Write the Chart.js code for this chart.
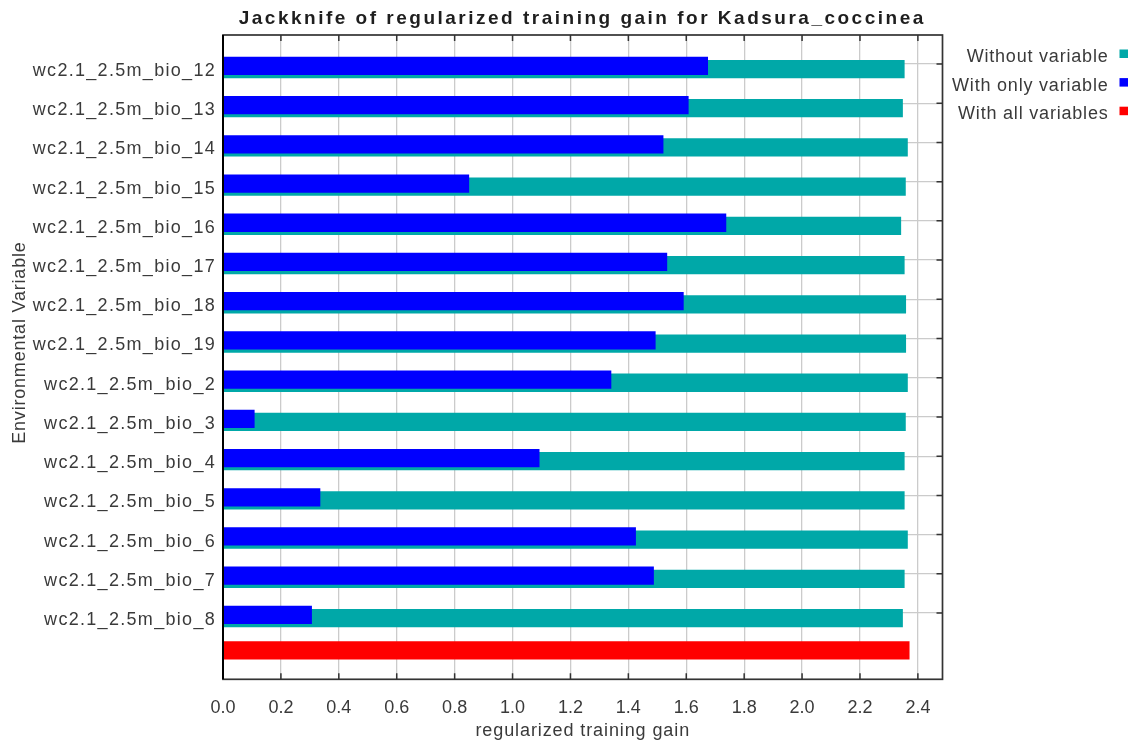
<!DOCTYPE html>
<html>
<head>
<meta charset="utf-8">
<title>Jackknife of regularized training gain for Kadsura_coccinea</title>
<script src="https://cdn.jsdelivr.net/npm/chart.js@4/dist/chart.umd.min.js"></script>
<style>
  html, body { margin: 0; padding: 0; background: #ffffff; }
  canvas { display: block; }
</style>
</head>
<body>
<canvas id="jackknife" width="1135" height="747"></canvas>
<script>
// Environmental variables, top to bottom
const variables = [
  'wc2.1_2.5m_bio_12', 'wc2.1_2.5m_bio_13', 'wc2.1_2.5m_bio_14', 'wc2.1_2.5m_bio_15',
  'wc2.1_2.5m_bio_16', 'wc2.1_2.5m_bio_17', 'wc2.1_2.5m_bio_18', 'wc2.1_2.5m_bio_19',
  'wc2.1_2.5m_bio_2', 'wc2.1_2.5m_bio_3', 'wc2.1_2.5m_bio_4', 'wc2.1_2.5m_bio_5',
  'wc2.1_2.5m_bio_6', 'wc2.1_2.5m_bio_7', 'wc2.1_2.5m_bio_8'
];
// Regularized training gain of a model built without each variable
const withoutVariable = [
  2.353, 2.347, 2.364, 2.357, 2.341, 2.353, 2.358, 2.358,
  2.364, 2.357, 2.353, 2.353, 2.364, 2.353, 2.347
];
// Gain of a model built with each variable alone
const withOnlyVariable = [
  1.674, 1.607, 1.520, 0.849, 1.737, 1.533, 1.590, 1.493,
  1.340, 0.108, 1.092, 0.335, 1.425, 1.487, 0.306
];
// Gain of the full model
const withAllVariables = 2.370;
// Gain axis tick values
const gainTicks = [0.0, 0.2, 0.4, 0.6, 0.8, 1.0, 1.2, 1.4, 1.6, 1.8, 2.0, 2.2, 2.4];
const seriesLabels = ['Without variable', 'With only variable', 'With all variables'];

const COLORS = { without: '#00a8a8', only: '#0000ff', all: '#ff0000' };
const TEXT = '#3a3a3a';
const GRID = '#cbcbcb';
const FRAME = '#333333';
const FONT = "'Liberation Sans', Arial, sans-serif";

// Row band geometry on the variable axis (in row units)
const ROW_MIN = -0.7395;
const ROW_MAX = 15.69;
const GAIN_MAX = 2.485;

// hidden row axes shift each series a little inside its band
function rowAxis(shift) {
  return {
    type: 'linear', axis: 'y', display: false, reverse: true, offset: false,
    grid: { offset: false },
    min: ROW_MIN - shift, max: ROW_MAX - shift
  };
}

const rowIdx = variables.map((_, i) => i);

const data = {
  datasets: [
    {
      label: seriesLabels[1],
      data: rowIdx.map(i => ({ x: withOnlyVariable[i], y: i })),
      backgroundColor: COLORS.only,
      yAxisID: 'yOnly', order: 1
    },
    {
      label: seriesLabels[0],
      data: rowIdx.map(i => ({ x: withoutVariable[i], y: i })),
      backgroundColor: COLORS.without,
      yAxisID: 'yWithout', order: 2
    },
    {
      label: seriesLabels[2],
      data: [{ x: withAllVariables, y: variables.length }],
      backgroundColor: COLORS.all,
      yAxisID: 'yAll', order: 0
    }
  ]
};

function spaced(ctx, spacing, fn) {
  ctx.save();
  ctx.letterSpacing = spacing + 'px';
  fn();
  ctx.restore();
}

// Letter spacing for the axis texts drawn by the scales
const axisTextSpacing = {
  id: 'axisTextSpacing',
  beforeDraw(chart) {
    const y = chart.scales.y, x = chart.scales.x;
    if (!y.__spaced) {
      const drawY = y.drawLabels;
      y.drawLabels = function (area) { spaced(this.ctx, 1.3, () => drawY.call(this, area)); };
      y.__spaced = true;
    }
    if (!x.__spaced) {
      const drawT = x.drawTitle;
      x.drawTitle = function (area) { spaced(this.ctx, 0.9, () => drawT.call(this, area)); };
      x.__spaced = true;
    }
  }
};

// Plot frame with inward tick marks
const plotFrame = {
  id: 'plotFrame',
  afterDatasetsDraw(chart) {
    const { ctx, chartArea: a, scales } = chart;
    ctx.save();
    ctx.strokeStyle = FRAME;
    ctx.lineWidth = 1.5;
    ctx.beginPath();
    gainTicks.forEach(v => {
      const px = scales.x.getPixelForValue(v);
      ctx.moveTo(px, a.top); ctx.lineTo(px, a.top + 6);
      ctx.moveTo(px, a.bottom); ctx.lineTo(px, a.bottom - 6);
    });
    rowIdx.forEach(i => {
      const py = scales.y.getPixelForValue(i);
      ctx.moveTo(a.right, py); ctx.lineTo(a.right - 6, py);
    });
    ctx.stroke();
    ctx.lineWidth = 1.7;
    ctx.strokeRect(a.left, a.top, a.right - a.left, a.bottom - a.top);
    ctx.strokeStyle = '#000000';
    ctx.lineWidth = 2;
    ctx.beginPath();
    ctx.moveTo(a.left, a.top); ctx.lineTo(a.left, a.bottom);
    ctx.stroke();
    ctx.restore();
  }
};

// Title, variable-axis title and legend
const annotations = {
  id: 'annotations',
  afterDraw(chart) {
    const { ctx, chartArea: a } = chart;
    ctx.save();
    ctx.textBaseline = 'middle';

    // chart title
    ctx.fillStyle = '#1e1e1e';
    ctx.font = 'bold 19px ' + FONT;
    ctx.textAlign = 'center';
    spaced(ctx, 2.5, () => ctx.fillText('Jackknife of regularized training gain for Kadsura_coccinea',
      (a.left + a.right) / 2 - 0.5, 18.5));

    // variable axis title
    ctx.fillStyle = TEXT;
    ctx.font = '18px ' + FONT;
    ctx.save();
    ctx.translate(20, 343);
    ctx.rotate(-Math.PI / 2);
    ctx.textAlign = 'center';
    spaced(ctx, 0.8, () => ctx.fillText('Environmental Variable', 0.4, 0));
    ctx.restore();

    // legend, text to the left of each swatch
    const legendRows = [
      { text: seriesLabels[0], color: COLORS.without },
      { text: seriesLabels[1], color: COLORS.only },
      { text: seriesLabels[2], color: COLORS.all }
    ];
    ctx.textAlign = 'right';
    legendRows.forEach((row, k) => {
      const ty = 57 + k * 28.6;
      ctx.fillStyle = TEXT;
      spaced(ctx, 0.8, () => ctx.fillText(row.text, 1108.5, ty));
      ctx.fillStyle = row.color;
      ctx.fillRect(1119.5, ty - 7.5, 8.5, 8.5);
    });
    ctx.restore();
  }
};

const chart = new Chart(document.getElementById('jackknife'), {
  type: 'bar',
  data,
  plugins: [axisTextSpacing, plotFrame, annotations],
  options: {
    indexAxis: 'y',
    responsive: false,
    animation: false,
    devicePixelRatio: 1,
    layout: { padding: { top: 35, right: 192.5, left: 0, bottom: 0 } },
    datasets: { bar: { barThickness: 17.6, maxBarThickness: 17.6, borderWidth: 0, grouped: false } },
    plugins: {
      legend: { display: false },
      title: { display: false },
      tooltip: { enabled: false }
    },
    scales: {
      x: {
        type: 'linear', position: 'bottom', min: 0, max: GAIN_MAX, offset: false,
        afterBuildTicks: s => { s.ticks = gainTicks.map(v => ({ value: v })); },
        afterFit: s => { s.height = 67.7; },
        grid: { color: GRID, lineWidth: 1.3, drawTicks: false, offset: false },
        border: { display: false },
        ticks: {
          autoSkip: false, maxRotation: 0, padding: 17.5, color: TEXT,
          font: { family: FONT, size: 18 },
          callback: v => Number(v).toFixed(1)
        },
        title: {
          display: true, text: 'regularized training gain', color: TEXT,
          font: { family: FONT, size: 18 }, padding: { top: 0, bottom: 5 }
        }
      },
      y: {
        type: 'linear', position: 'left', reverse: true, min: ROW_MIN, max: ROW_MAX,
        offset: false,
        afterBuildTicks: s => { s.ticks = rowIdx.map(i => ({ value: i })); },
        afterFit: s => { s.width = 223; },
        grid: { color: GRID, lineWidth: 1.3, drawTicks: false, offset: false },
        border: { display: false },
        ticks: {
          autoSkip: false, padding: 7, labelOffset: 7, color: TEXT,
          font: { family: FONT, size: 18 },
          callback: v => variables[Math.round(v)]
        }
      },
      yOnly: rowAxis(0.048),
      yWithout: rowAxis(0.128),
      yAll: rowAxis(-0.045)
    }
  }
});
</script>
</body>
</html>
